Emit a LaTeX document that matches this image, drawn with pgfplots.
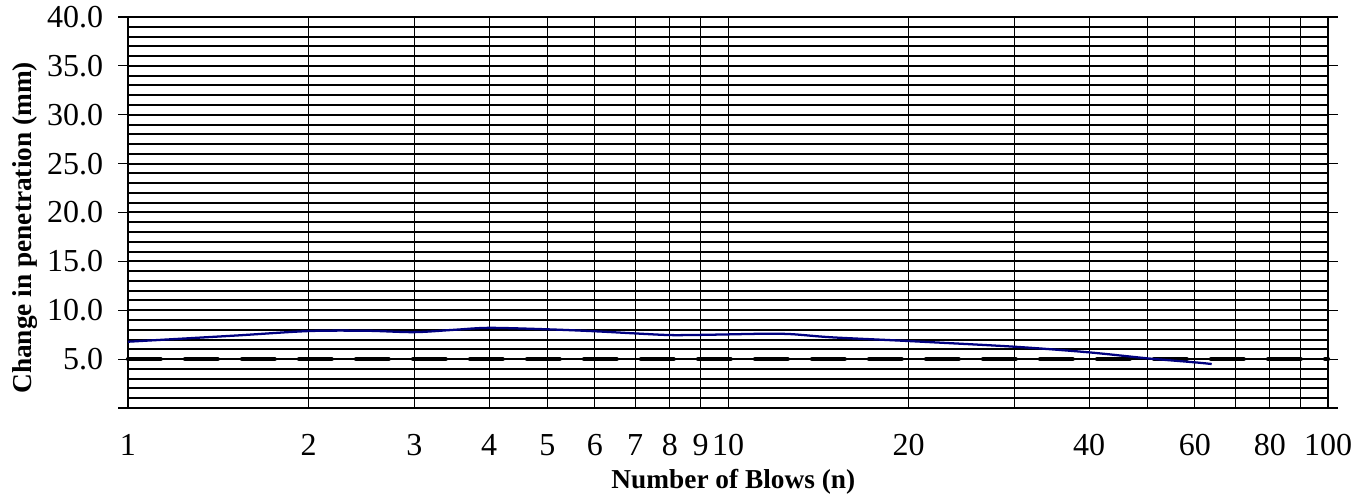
\documentclass[border=0pt]{standalone}
\usepackage{pgfplots}
\pgfplotsset{compat=1.18}
\usepackage{fontspec}
\setmainfont{Liberation Serif}
\definecolor{navyline}{RGB}{0,0,128}
\begin{document}
\begin{tikzpicture}
\begin{axis}[
  name=ax,
  scale only axis,
  width=900pt, height=293.25pt,
  xmode=log, log basis x=10,
  xmin=1, xmax=100, ymin=0, ymax=40,
  xtick={1,2,3,4,5,6,7,8,9,10,20,30,40,50,60,70,80,90,100},
  xticklabels={1,2,3,4,5,6,7,8,9,10,20,,40,,60,,80,,100},
  ytick={0,5,10,15,20,25,30,35,40},
  yticklabels={,5.0,10.0,15.0,20.0,25.0,30.0,35.0,40.0},
  minor ytick={1,2,3,4,6,7,8,9,11,12,13,14,16,17,18,19,21,22,23,24,26,27,28,29,31,32,33,34,36,37,38,39},
  xmajorgrids, ymajorgrids, yminorgrids,
  major x grid style={black, line width=0.75pt},
  major y grid style={black, line width=1.5pt},
  minor y grid style={black, line width=1.5pt},
  axis line style={black, line width=1.3pt},
  tick align=outside,
  major tick length=7.5pt,
  minor tick length=0pt,
  xtick style={draw=none},
  ytick style={black, line width=0.8pt},
  /pgf/number format/assume math mode=true,
  tick label style={font=\fontsize{24}{28}\selectfont},
  xticklabel style={anchor=base, yshift=-28pt},
  yticklabel style={anchor=east, inner sep=0pt},
  yticklabel shift=11pt,
  xlabel={\textbf{Number of Blows (n)}},
  ylabel={\textbf{Change in penetration (mm)}},
  label style={font=\fontsize{20.5}{24}\selectfont},
  xlabel style={at={(rel axis cs:0.5,0)}, anchor=base, yshift=-60pt, xshift=4pt},
  ylabel style={at={(rel axis cs:0,0.5)}, anchor=center, xshift=-11.5pt, yshift=77.25pt},
  clip=false,
]
\addplot[black, line width=3.2pt, line cap=round, dash pattern=on 24.5pt off 18.25pt] coordinates {(1,5) (100,5)};
\addplot[navyline, line width=1.7pt, smooth, tension=0.5] coordinates {
(1,6.78) (1.5,7.4) (2,7.87) (2.5,7.9) (3,7.76) (3.5,8.0) (4,8.2) (5,8.05) (6,7.85) (7,7.63) (8,7.46) (9,7.48) (10,7.53) (11.6,7.6) (12.8,7.55) (14.9,7.23) (20,6.85) (30,6.27) (40,5.69) (50,5.08) (60,4.67) (64,4.5)
};
\end{axis}
\pgfresetboundingbox
\path[use as bounding box] ([xshift=-96pt,yshift=-68.25pt]ax.south west) rectangle ([xshift=28.5pt,yshift=12.75pt]ax.north east);
\end{tikzpicture}
\end{document}
